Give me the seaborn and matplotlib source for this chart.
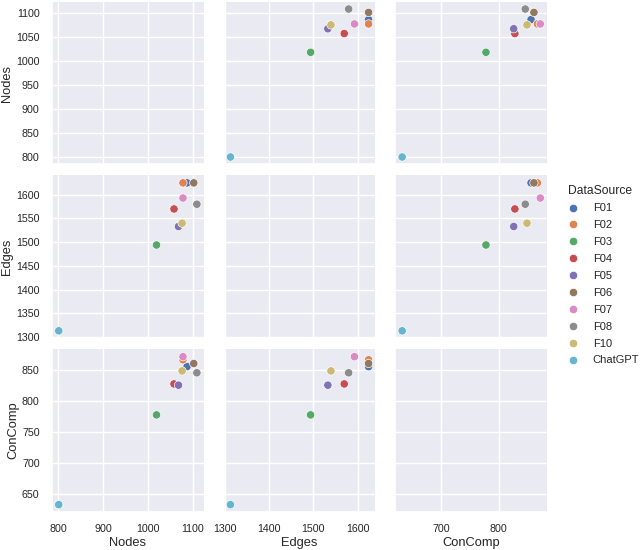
import matplotlib
matplotlib.use("Agg")
import matplotlib.pyplot as plt
from matplotlib.ticker import MultipleLocator
import seaborn as sns
import pandas as pd

sources = ["F01", "F02", "F03", "F04", "F05", "F06", "F07", "F08", "F10", "ChatGPT"]
nodes = [1087, 1078, 1019, 1058, 1068, 1102, 1078, 1109, 1076, 801]
edges = [1625, 1625, 1494, 1570, 1533, 1625, 1593, 1580, 1540, 1313]
concomp = [856, 867, 778, 828, 826, 861, 872, 846, 849, 633]

df = pd.DataFrame({"Nodes": nodes, "Edges": edges, "ConComp": concomp, "DataSource": sources})

sns.set_theme(style="darkgrid")
plt.rcParams["font.family"] = ["Liberation Sans", "DejaVu Sans"]
plt.rcParams["xtick.labelsize"] = 7.7
plt.rcParams["ytick.labelsize"] = 7.7
plt.rcParams["axes.labelsize"] = 9.3
plt.rcParams["axes.labelpad"] = 2.0
plt.rcParams["legend.fontsize"] = 8.0
plt.rcParams["legend.title_fontsize"] = 8.7
plt.rcParams["legend.labelspacing"] = 0.62
plt.rcParams["xtick.major.pad"] = 2.8
plt.rcParams["ytick.major.pad"] = 2.8

g = sns.PairGrid(df, hue="DataSource", hue_order=sources, palette="deep", height=2.5)
g.map_offdiag(sns.scatterplot, s=36)
g.add_legend()

fig = g.figure
fig.set_size_inches(6.4, 5.5)
fig.subplots_adjust(left=0.081, right=0.855, top=0.997, bottom=0.069, wspace=0.13, hspace=0.068)

steps = {"Nodes": (100, 50), "Edges": (100, 50), "ConComp": (100, 50)}
names = ["Nodes", "Edges", "ConComp"]
for i, rv in enumerate(names):
    for j, cv in enumerate(names):
        ax = g.axes[i, j]
        ax.xaxis.set_major_locator(MultipleLocator(steps[cv][0]))
        ax.yaxis.set_major_locator(MultipleLocator(steps[rv][1]))

leg = g._legend
leg.set_loc("center left")
leg.set_bbox_to_anchor((0.862, 0.5), transform=fig.transFigure)
leg._legend_box.sep = 5

fig.savefig("out.png", dpi=100)
